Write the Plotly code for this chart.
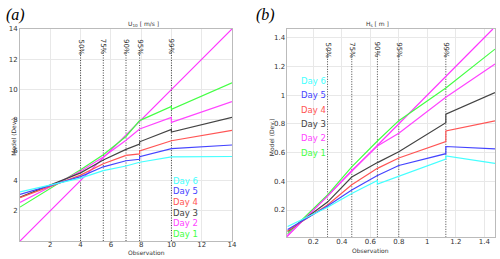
import plotly.graph_objects as go

# ---------------- data ----------------
days = ["Day 1", "Day 2", "Day 3", "Day 4", "Day 5", "Day 6"]
day_colors = ["#44FF44", "#FF44FF", "#444444", "#FF5555", "#4444FF", "#44FFFF"]

# Panel (a): U10 [m/s]
a_quant_x = [4, 5.5, 7, 7.9, 10]
a_quant_lbl = ["50%", "75%", "90%", "95%", "99%"]
a_identity = [0, 14]
a_x = {
    "Day 1": [0, 4, 5.5, 7, 7.9, 10, 10, 14],
    "Day 2": [0, 4, 5.5, 7, 7.9, 10, 10, 14],
    "Day 3": [0, 4, 5.5, 7, 7.9, 7.9, 10, 10, 14],
    "Day 4": [0, 4, 5.5, 7, 7.9, 7.9, 10, 14],
    "Day 5": [0, 4, 5.5, 7, 7.9, 7.9, 10, 14],
    "Day 6": [0, 4, 5.5, 7, 7.9, 10, 14],
}
a_y = {
    "Day 1": [2.24, 4.70, 5.70, 6.90, 7.95, 8.88, 8.69, 10.45],
    "Day 2": [2.55, 4.60, 5.55, 6.65, 7.40, 8.16, 7.83, 9.20],
    "Day 3": [2.90, 4.50, 5.35, 6.05, 6.40, 6.55, 7.37, 7.20, 8.16],
    "Day 4": [2.86, 4.35, 5.10, 5.65, 5.75, 5.95, 6.62, 7.30],
    "Day 5": [3.08, 4.25, 4.90, 5.30, 5.40, 5.57, 6.10, 6.34],
    "Day 6": [3.25, 4.15, 4.65, 4.95, 5.20, 5.55, 5.58],
}

# Panel (b): Hs [m]
b_quant_x = [0.30, 0.47, 0.65, 0.80, 1.13]
b_quant_lbl = ["50%", "75%", "90%", "95%", "99%"]
b_identity = [0.012, 1.46]
b_x = {
    "Day 1": [0.02, 0.30, 0.47, 0.65, 0.80, 1.13, 1.475],
    "Day 2": [0.02, 0.30, 0.47, 0.65, 0.80, 1.13, 1.475],
    "Day 3": [0.02, 0.30, 0.47, 0.65, 0.80, 1.13, 1.13, 1.475],
    "Day 4": [0.02, 0.30, 0.47, 0.65, 0.80, 1.13, 1.13, 1.475],
    "Day 5": [0.02, 0.30, 0.47, 0.65, 0.80, 1.13, 1.13, 1.475],
    "Day 6": [0.02, 0.30, 0.47, 0.65, 0.65, 0.80, 1.13, 1.13, 1.475],
}
b_y = {
    "Day 1": [0.035, 0.305, 0.500, 0.680, 0.822, 1.050, 1.320],
    "Day 2": [0.024, 0.295, 0.475, 0.645, 0.735, 0.985, 1.217],
    "Day 3": [0.050, 0.255, 0.430, 0.530, 0.605, 0.808, 0.867, 1.017],
    "Day 4": [0.055, 0.235, 0.376, 0.490, 0.562, 0.676, 0.750, 0.820],
    "Day 5": [0.065, 0.228, 0.340, 0.440, 0.510, 0.592, 0.642, 0.625],
    "Day 6": [0.085, 0.219, 0.315, 0.405, 0.380, 0.435, 0.555, 0.576, 0.525],
}

a_label_x, a_label_y0, a_label_dy = 10.0, 3.97, 0.70
b_label_x, b_label_y0, b_label_dy = 0.098, 1.099, 0.10

# ---------------- figure ----------------
fig = go.Figure()

def add_panel(xa, ya, xs, ys, ident, qx, qtop, lab_x, lab_y0, lab_dy, ymin):
    for q in qx:
        fig.add_trace(go.Scatter(x=[q, q], y=[ymin, qtop], mode="lines",
                                 line=dict(color="#444444", width=1, dash="1px,1.5px"),
                                 xaxis=xa, yaxis=ya, showlegend=False, hoverinfo="skip"))
    fig.add_trace(go.Scatter(x=ident, y=ident, mode="lines",
                             line=dict(color="#FF33FF", width=1.2),
                             xaxis=xa, yaxis=ya, showlegend=False))
    for d, c in zip(days, day_colors):
        fig.add_trace(go.Scatter(x=xs[d], y=ys[d], mode="lines",
                                 line=dict(color=c, width=1.2),
                                 xaxis=xa, yaxis=ya, showlegend=False, name=d))
    for i, (d, c) in enumerate(zip(reversed(days), reversed(day_colors))):
        fig.add_annotation(x=lab_x, y=lab_y0 - i * lab_dy, xref=xa, yref=ya,
                           text=d, showarrow=False, xanchor="left", yanchor="middle",
                           font=dict(size=8.5, color=c, family="DejaVu Sans"))

add_panel("x", "y", a_x, a_y, a_identity, a_quant_x, 12.85,
          a_label_x, a_label_y0, a_label_dy, 0)
add_panel("x2", "y2", b_x, b_y, b_identity, b_quant_x, 1.32,
          b_label_x, b_label_y0, b_label_dy, 0.01)

for q, l in zip(a_quant_x, a_quant_lbl):
    fig.add_annotation(x=q, y=(259 - 37) / 259, xref="x", yref="paper", text=l, textangle=90,
                       showarrow=False, font=dict(size=7, color="#333333", family="DejaVu Sans"))
for q, l in zip(b_quant_x, b_quant_lbl):
    fig.add_annotation(x=q, y=(259 - 40) / 259, xref="x2", yref="paper", text=l, textangle=90,
                       showarrow=False, font=dict(size=7, color="#333333", family="DejaVu Sans"))

axis_common = dict(showgrid=True, gridcolor="#E8E8E8", gridwidth=1, zeroline=False,
                   showline=True, linecolor="#BBBBBB", linewidth=1, mirror=True,
                   ticks="", automargin=False,
                   tickfont=dict(size=7, color="#333333", family="DejaVu Sans"))

tv_b = [0.2, 0.4, 0.6, 0.8, 1.0, 1.2, 1.4]
tt_b = ["0.2", "0.4", "0.6", "0.8", "1", "1.2", "1.4"]
fig.update_layout(
    width=500, height=259, margin=dict(l=0, r=0, t=0, b=0, autoexpand=False),
    paper_bgcolor="white", plot_bgcolor="white", showlegend=False,
    xaxis=dict(domain=[0.040, 0.464], range=[0, 14], tickvals=[2, 4, 6, 8, 10, 12, 14],
               anchor="y", ticklabelstandoff=-3, **axis_common),
    yaxis=dict(domain=[(259 - 241) / 259, (259 - 29) / 259], range=[0, 14],
               tickvals=[2, 4, 6, 8, 10, 12, 14], anchor="x", **axis_common),
    xaxis2=dict(domain=[0.573, 0.990], range=[0.012, 1.475],
                tickvals=tv_b, ticktext=tt_b, anchor="y2", ticklabelstandoff=-3, **axis_common),
    yaxis2=dict(domain=[(259 - 237.3) / 259, (259 - 29) / 259], range=[0.01, 1.46],
                tickvals=tv_b, ticktext=tt_b, anchor="x2", ticklabelstandoff=-1, **axis_common),
)

small = dict(size=6, color="#333333", family="DejaVu Sans")
fig.add_annotation(x=0.252, y=(259 - 24) / 259, xref="paper", yref="paper", text="U<sub>10</sub> [ m/s ]",
                   showarrow=False, font=small, yanchor="middle")
fig.add_annotation(x=0.781, y=(259 - 24) / 259, xref="paper", yref="paper", text="H<sub>s</sub> [ m ]",
                   showarrow=False, font=small, yanchor="middle")
fig.add_annotation(x=0.252, y=(259 - 252) / 259, xref="paper", yref="paper", text="Observation",
                   showarrow=False, font=small, yanchor="middle")
fig.add_annotation(x=0.781, y=(259 - 250) / 259, xref="paper", yref="paper", text="Observation",
                   showarrow=False, font=small, yanchor="middle")
fig.add_annotation(x=8 / 500, y=0.47, xref="paper", yref="paper", text="Model (Dev.)",
                   textangle=-90, showarrow=False, font=small)
fig.add_annotation(x=271 / 500, y=0.47, xref="paper", yref="paper", text="Model (Dev.)",
                   textangle=-90, showarrow=False, font=small)
fig.add_annotation(x=4 / 500, y=(259 - 15) / 259, xref="paper", yref="paper", text="<i>(a)</i>",
                   showarrow=False, xanchor="left", yanchor="middle",
                   font=dict(size=16, color="black", family="Liberation Serif"))
fig.add_annotation(x=254 / 500, y=(259 - 15) / 259, xref="paper", yref="paper", text="<i>(b)</i>",
                   showarrow=False, xanchor="left", yanchor="middle",
                   font=dict(size=16, color="black", family="Liberation Serif"))

fig.write_html("out.html", config={"displayModeBar": False},
               post_script="document.body.style.margin='0';document.body.style.padding='0';"
                           "document.documentElement.style.overflow='hidden';")
